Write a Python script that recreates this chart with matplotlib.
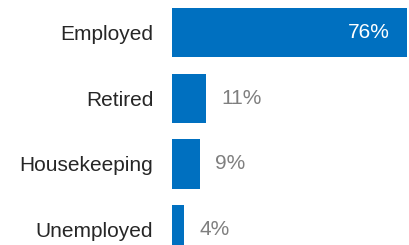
import matplotlib
matplotlib.use("Agg")
import matplotlib.pyplot as plt

categories = ["Employed", "Retired", "Housekeeping", "Unemployed"]
values = [76, 11, 9, 4]
value_labels = ["76%", "11%", "9%", "4%"]

plt.rcParams['font.family'] = ['Liberation Sans', 'DejaVu Sans']

W, H = 410, 245
fig = plt.figure(figsize=(W / 100, H / 100), dpi=100)
left_px = 172
ax = fig.add_axes([left_px / W, 0, (W - left_px) / W, 1])

bar_color = "#0070C0"
ypos = list(range(len(categories)))
ax.barh(ypos, values, height=0.75, color=bar_color)

ax.set_xlim(0, 77.07)
ax.set_ylim(3.235, -0.495)

ax.set_yticks(ypos)
ax.set_yticklabels(categories, fontsize=15, color="#262626")
ax.tick_params(axis='y', length=0, pad=13.5)
ax.set_xticks([])
for s in ax.spines.values():
    s.set_visible(False)

for i, (v, lab) in enumerate(zip(values, value_labels)):
    if i == 0:
        ax.annotate(lab, (v, i), xytext=(-17, 0), textcoords="offset pixels",
                    ha="right", va="center", fontsize=15, color="white")
    else:
        ax.annotate(lab, (v, i), xytext=(15, 0), textcoords="offset pixels",
                    ha="left", va="center", fontsize=15, color="#7F7F7F")

fig.savefig("out.png", dpi=100)
